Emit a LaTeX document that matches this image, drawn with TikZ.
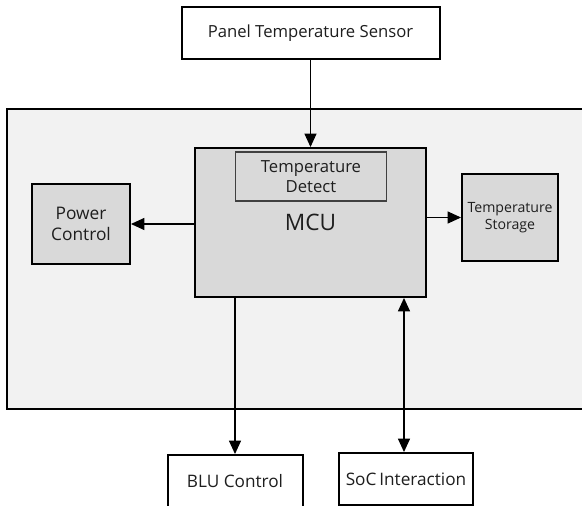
\documentclass[tikz,border=0pt]{standalone}
\usepackage{fontspec}
\setmainfont{Open Sans}
\usetikzlibrary{arrows.meta}
\definecolor{outerfill}{HTML}{F2F2F2}
\definecolor{boxfill}{HTML}{D9D9D9}
\definecolor{txt}{HTML}{1E1E1E}
\tikzset{
  blk/.style={draw=black, line width=1.5pt, text=txt, align=center, inner sep=0pt},
  whitebox/.style={blk, fill=white},
  graybox/.style={blk, fill=boxfill},
  conn/.style={line width=0.8pt, -{Triangle[length=10pt,width=9pt]}},
  conn2/.style={line width=0.8pt, {Triangle[length=10pt,width=9pt]}-{Triangle[length=10pt,width=9pt]}},
  lbl/.style={text=txt, align=center, inner sep=0pt},
}
\begin{document}
\begin{tikzpicture}[x=0.75pt,y=-0.75pt]
\useasboundingbox (0,0) rectangle (582,506);
% outer region
\draw[line width=1.5pt, fill=outerfill] (7,109.5) rectangle (600,409);
% nodes
\node[whitebox, minimum width=258*0.75pt, minimum height=52*0.75pt, font=\fontsize{12.5}{15}\selectfont] (panel) at (310.5,33) {Panel Temperature Sensor};
\node[graybox, minimum width=231*0.75pt, minimum height=149*0.75pt] (mcu) at (310.5,222.5) {};
\node[draw=black!75, line width=0.8pt, fill=boxfill, minimum width=151*0.75pt, minimum height=49*0.75pt, lbl, font=\fontsize{12.5}{14.5}\selectfont] (detect) at (311,176.5) {Temperature\\Detect};
\node[lbl, font=\fontsize{17}{20}\selectfont] (mculbl) at (310.5,222) {MCU};
\node[graybox, minimum width=98*0.75pt, minimum height=80*0.75pt, font=\fontsize{13}{15.5}\selectfont] (power) at (81,224) {Power\\Control};
\node[graybox, minimum width=96*0.75pt, minimum height=87*0.75pt, font=\fontsize{10.6}{13}\selectfont] (storage) at (510,217.5) {Temperature\\Storage};
\node[whitebox, minimum width=135*0.75pt, minimum height=62*0.75pt] (blu) at (235,486) {};
\node[lbl, font=\fontsize{12.9}{15}\selectfont] (blulbl) at (235,481) {BLU Control};
\node[whitebox, minimum width=134*0.75pt, minimum height=52*0.75pt, font=\fontsize{12.9}{15}\selectfont] (soc) at (406,479) {SoC\,Interaction};
% connectors
\draw[conn] (panel.south -| mcu.north) -- (mcu.north);
\draw[conn] (mcu.west |- power.east) -- (power.east);
\draw[draw=black!50, line width=1.4pt] (mcu.east |- storage.west) -- ([xshift=-9pt]storage.west);
\draw[conn, line width=0.8pt] (mcu.east |- storage.west) -- (storage.west);
\draw[conn] (mcu.south -| blu.north) -- (blu.north);
\draw[conn2] (soc.north -| 404,0) -- (mcu.south -| 404,0);
\end{tikzpicture}
\end{document}
